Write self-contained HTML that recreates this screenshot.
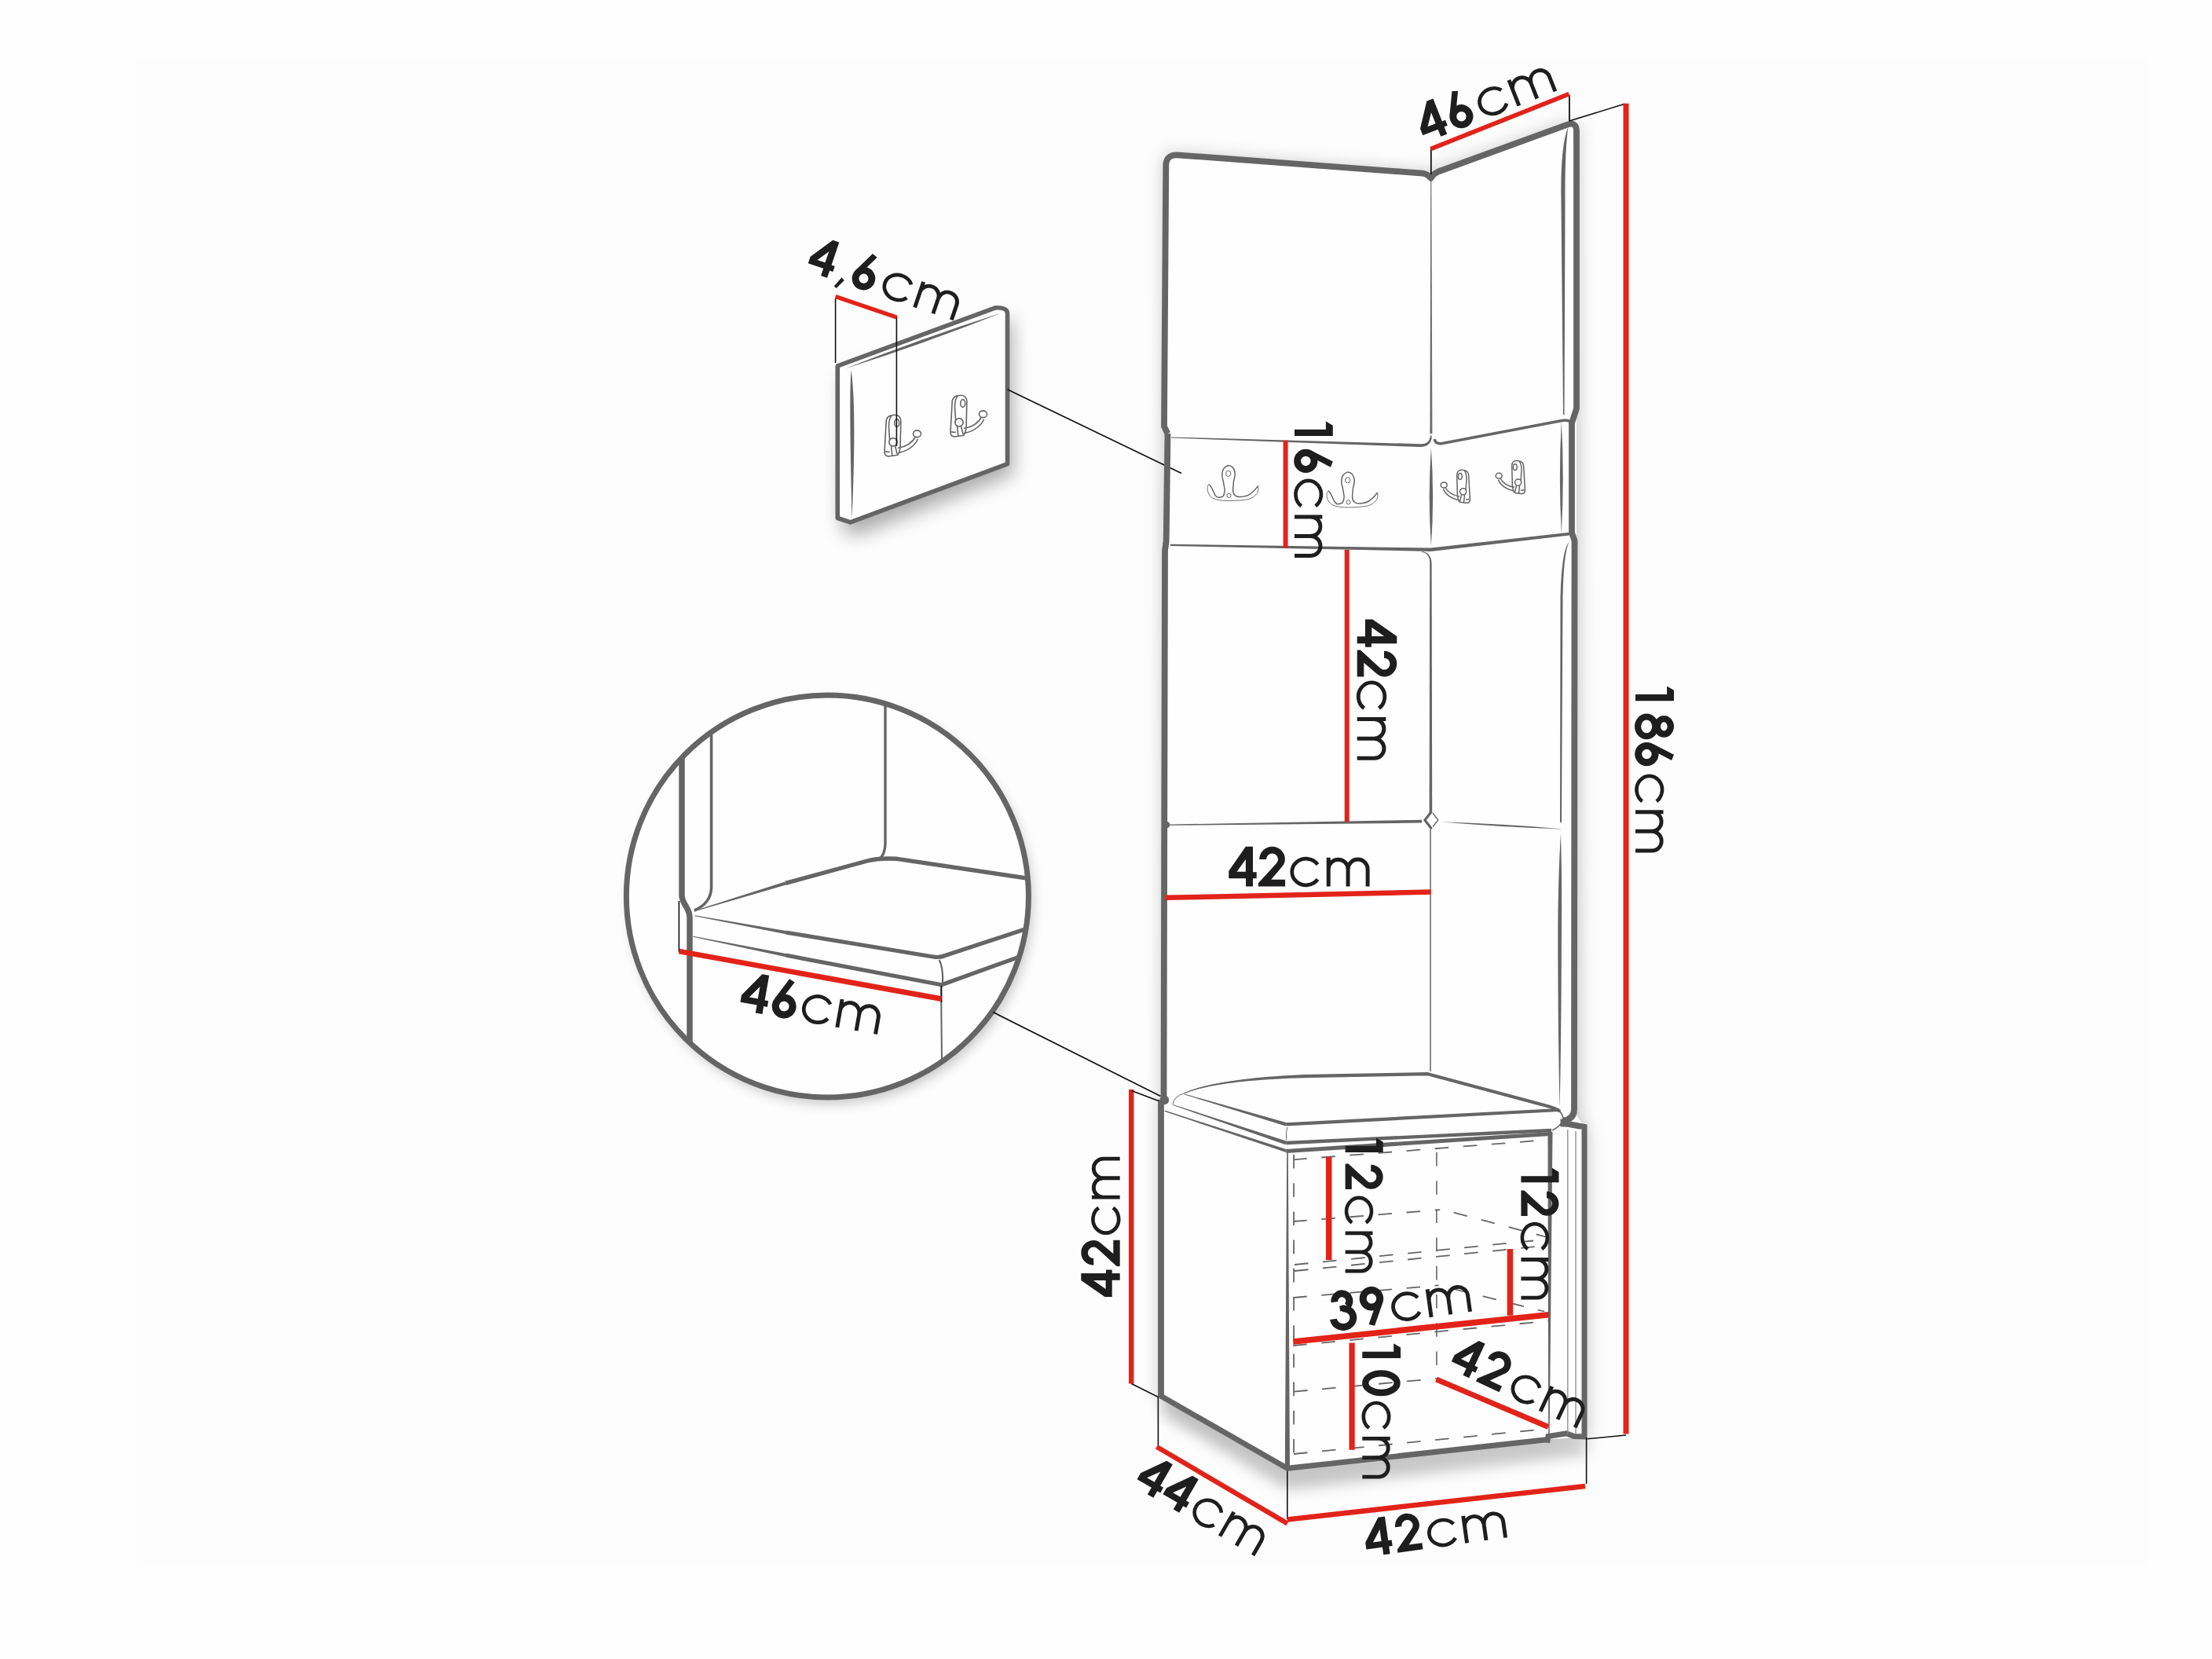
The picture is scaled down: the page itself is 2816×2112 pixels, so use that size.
<!DOCTYPE html>
<html><head><meta charset="utf-8"><style>
html,body{margin:0;padding:0;background:#fefefe;}
svg{display:block;}
text{font-family:"Liberation Sans",sans-serif;fill:#1e1e1e;}
</style></head><body>
<svg width="2816" height="2112" viewBox="0 0 2816 2112" xmlns="http://www.w3.org/2000/svg">
<defs>
<filter id="blur8" x="-30%" y="-30%" width="160%" height="160%"><feGaussianBlur stdDeviation="8"/></filter>
<filter id="blur9" x="-30%" y="-30%" width="160%" height="160%"><feGaussianBlur stdDeviation="9"/></filter>
<filter id="blur12" x="-30%" y="-30%" width="160%" height="160%"><feGaussianBlur stdDeviation="12"/></filter>
<filter id="blur6" x="-30%" y="-30%" width="160%" height="160%"><feGaussianBlur stdDeviation="6"/></filter>
<filter id="blur10" x="-30%" y="-30%" width="160%" height="160%"><feGaussianBlur stdDeviation="10"/></filter>
<clipPath id="cc"><circle cx="1053.4" cy="1141" r="253"/></clipPath>
</defs>
<rect width="2816" height="2112" fill="#fefefe"/>
<rect x="174" y="75" width="2560" height="1919" fill="#fdfdfd"/>
<g filter="url(#blur12)" opacity="0.32">
<path d="M1074,478 L1288,404 L1290,604 L1090,682 L1072,674Z" fill="#000"/>
</g>
<g filter="url(#blur8)" opacity="0.22">
<circle cx="1058" cy="1149" r="256" fill="#000"/>
</g>
<g filter="url(#blur12)" opacity="0.26">
<path d="M1484,197 L1821,222 L2007,155 L2009,1430 L2019,1434 L2019,1832 L1640,1876 L1478,1784 L1478,1410 L1481,1400Z" fill="#000"/>
</g>
<g filter="url(#blur10)" opacity="0.25">
<path d="M1482,1784 L1640,1878 L1978,1840 L2020,1838 L2020,1850 L1640,1895 L1482,1800Z" fill="#000"/>
</g>
<path d="M1484,197 L1821,222 L2007,155 L2007,1420 L2017,1434 L2017,1830 L1976,1832 L1639,1869 L1477,1778 L1477,1410 L1481,1400Z" fill="#fefefe"/>
<path d="M1066.3,465.9 L1267,391.8 Q1282.5,391 1282.5,399 L1282.5,590.7 L1082.6,664.9 L1066.3,659.5 Z" fill="#fefefe" stroke="#656565" stroke-width="5.6" stroke-linejoin="round"/>
<path d="M1075.3,469.6 Q1175.9,437.5 1274.0,398.6 Q1173.4,430.7 1075.3,469.6Z" fill="#656565"/>
<path d="M1083.5,471 C1089,505 1088,585 1084.5,661 C1083,585 1081,505 1083.5,471 Z" fill="#656565"/>
<g transform="translate(0,0) translate(3465.25,-219.5) scale(-1.25,1.25)" stroke="#656565" stroke-width="1.3" fill="none">
<path d="M1857.9,639 Q1855,634 1855.3,628.5 L1854.7,604.4 Q1855,598 1861.4,598.2 Q1869.7,598.5 1869.7,605.6 L1871.4,636.1 Q1871,641 1866.1,640.2 Z" fill="#fff"/>
<path d="M1864.1,599 Q1867,602 1867,610 L1866,625"/>
<ellipse cx="1858.8" cy="606.4" rx="2.4" ry="3.9"/>
<path d="M1857.9,632 Q1845,630 1839.5,620" />
<path d="M1856.7,636.7 Q1842,633 1837.3,622.6" />
<ellipse cx="1838.2" cy="617.4" rx="4" ry="3.5" fill="#fff"/>
<circle cx="1862.6" cy="625.8" r="4.1" fill="#fff"/>
<path d="M1860.5,630 L1858.5,638 M1864.5,630 L1863.5,640 M1866,636 L1870.5,635.5"/>
</g>
<g transform="translate(84,-25) translate(3465.25,-219.5) scale(-1.25,1.25)" stroke="#656565" stroke-width="1.3" fill="none">
<path d="M1857.9,639 Q1855,634 1855.3,628.5 L1854.7,604.4 Q1855,598 1861.4,598.2 Q1869.7,598.5 1869.7,605.6 L1871.4,636.1 Q1871,641 1866.1,640.2 Z" fill="#fff"/>
<path d="M1864.1,599 Q1867,602 1867,610 L1866,625"/>
<ellipse cx="1858.8" cy="606.4" rx="2.4" ry="3.9"/>
<path d="M1857.9,632 Q1845,630 1839.5,620" />
<path d="M1856.7,636.7 Q1842,633 1837.3,622.6" />
<ellipse cx="1838.2" cy="617.4" rx="4" ry="3.5" fill="#fff"/>
<circle cx="1862.6" cy="625.8" r="4.1" fill="#fff"/>
<path d="M1860.5,630 L1858.5,638 M1864.5,630 L1863.5,640 M1866,636 L1870.5,635.5"/>
</g>
<circle cx="1053.4" cy="1141" r="256" fill="#fefefe"/>
<g clip-path="url(#cc)">
<path d="M868,940 V1140 C868,1151 878,1155 878,1168 V1345" stroke="#656565" stroke-width="7.5" fill="none" />
<path d="M905.6,925 V1130 Q905,1150 884,1159" stroke="#656565" stroke-width="3.6" fill="none" />
<path d="M1127,885 V1075 Q1126,1090 1119,1093" stroke="#656565" stroke-width="3.4" fill="none" />
<path d="M883.55,1160.48 L1000.61,1126.41 L999.39,1122.39 L883.25,1159.52Z" fill="#656565"/>
<path d="M1000,1124.4 L1104,1096 Q1118,1092 1142,1093.3 L1320,1120" stroke="#656565" stroke-width="5.4" fill="none" stroke-linejoin="round"/>
<path d="M884.31,1166.29 L999.62,1189.07 L1000.38,1184.93 L884.49,1165.31Z" fill="#656565"/>
<path d="M1000,1187 L1188,1218 Q1196,1219.5 1203,1216.5 L1320,1178" stroke="#656565" stroke-width="5.2" fill="none" stroke-linejoin="round"/>
<path d="M882.30,1192.79 L999.59,1218.06 L1000.41,1213.94 L882.50,1191.81Z" fill="#656565"/>
<path d="M1000,1216 L1198.6,1253.8 L1320,1210" stroke="#656565" stroke-width="5.2" fill="none" stroke-linejoin="round"/>
<path d="M1195.7,1222 Q1201,1232 1200,1252.4" stroke="#656565" stroke-width="2.2" fill="none" />
<path d="M1198,1255 L1199,1350" stroke="#656565" stroke-width="2.0" fill="none" />
</g>
<circle cx="1053.4" cy="1141" r="256" fill="none" stroke="#656565" stroke-width="7"/>
<line x1="864.4" y1="1147" x2="864.4" y2="1212" stroke="#111" stroke-width="1.6" />
<line x1="1198.5" y1="1255" x2="1198.5" y2="1276" stroke="#111" stroke-width="1.6" />
<line x1="864.4" y1="1211" x2="1198.5" y2="1271.7" stroke="#e2231a" stroke-width="6.8" />
<line x1="1282.5" y1="495.8" x2="1504" y2="602.5" stroke="#111" stroke-width="1.7" />
<line x1="1264.3" y1="1288.6" x2="1477.5" y2="1395.5" stroke="#111" stroke-width="1.7" />
<path d="M1486.5,552 L1482,543 L1484.3,211 Q1484.3,197 1498.5,197.3 L1811,220.6 Q1817.5,221.5 1821.6,226.8 Q1825,221 1831,218.5 L1995.5,158.6 Q2007,154.8 2007,167 L2007,520 L2001,538.5 L2001,678 L2004.5,688.5 L2004,1412 Q2004,1425 1990,1426.5" stroke="#656565" stroke-width="7.8" fill="none" stroke-linejoin="round"/>
<path d="M1486.5,552 L1484.7,689 L1483,701 L1481.5,1400" stroke="#656565" stroke-width="7.8" fill="none" stroke-linejoin="round"/>
<circle cx="1482.3" cy="1400.3" r="5.9" fill="#656565"/>
<path d="M1478,1400 L1478,1779" stroke="#656565" stroke-width="7.8" fill="none" />
<path d="M1480,1044 Q1490,1046 1489.5,1050 Q1490,1054 1480,1056 Z" fill="#656565"/>
<path d="M1821.25,229.00 L1820.40,552.00 L1823.40,552.00 L1822.35,229.00Z" fill="#6e6e6e"/>
<path d="M1491,556.4 L1808,565.2 Q1818.5,566 1820.5,557 L1821.6,553 L1822.8,557 Q1821,569 1808,569 L1491,557.6Z" fill="#656565"/>
<path d="M1826,559 Q1828,566 1836,564.5 L1988,535.5 Q1995,534 1999,537" stroke="#656565" stroke-width="3.4" fill="none" />
<path d="M1996.5,161.5 Q1986,185 1987.5,260 L1990,528 L1991.5,528 L1992.5,260 Q1992,190 1996.5,161.5Z" fill="#656565"/>
<path d="M1821.9,570.0 Q1817.5,632.5 1821.9,695.0 Q1826.3,632.5 1821.9,570.0Z" fill="#656565"/>
<path d="M1987.8,536.0 Q1984.0,607.5 1987.8,679.0 Q1991.6,607.5 1987.8,536.0Z" fill="#656565"/>
<path d="M1490,692.8 L1821.6,697.6 L1998,677.8 L1998,681.6 L1821.6,702 L1490,695Z" fill="#656565"/>
<g stroke="#656565" fill="none">
<path d="M1539.2,616.4 Q1541.4,618.8 1543,622 L1546.8,630.1 Q1549,633.5 1551.2,633.3 Q1557.4,633 1558,629.8 Q1559.6,624 1559,622.3 L1557.4,613.3 Q1555.4,606 1555.9,603.5 Q1556,595 1563.7,592.5 Q1571.5,593 1572.3,603.5 Q1572,608 1570.4,613.3 L1569.6,623.1 Q1569.6,628 1571.5,630.1 Q1574,632.8 1579,632.5 Q1588,632 1592,628.5 Q1598,624 1601.7,618.6" stroke-width="1.5"/>
<path d="M1601.7,618.6 Q1603,624 1600.5,628 Q1597,633 1590,635.5 Q1580,637.5 1565.3,637.6 Q1550,637.6 1543.5,634 Q1539,631 1538,627 Q1536.5,621 1537.4,619.2 Q1538,616.5 1539.2,616.4" stroke-width="0.9"/>
<ellipse cx="1563.7" cy="602.9" rx="3.2" ry="3.6"/>
<circle cx="1564.5" cy="630.9" r="2.6"/>
</g>
<g transform="translate(152,8.4)" stroke="#656565" fill="none">
<path d="M1539.2,616.4 Q1541.4,618.8 1543,622 L1546.8,630.1 Q1549,633.5 1551.2,633.3 Q1557.4,633 1558,629.8 Q1559.6,624 1559,622.3 L1557.4,613.3 Q1555.4,606 1555.9,603.5 Q1556,595 1563.7,592.5 Q1571.5,593 1572.3,603.5 Q1572,608 1570.4,613.3 L1569.6,623.1 Q1569.6,628 1571.5,630.1 Q1574,632.8 1579,632.5 Q1588,632 1592,628.5 Q1598,624 1601.7,618.6" stroke-width="1.5"/>
<path d="M1601.7,618.6 Q1603,624 1600.5,628 Q1597,633 1590,635.5 Q1580,637.5 1565.3,637.6 Q1550,637.6 1543.5,634 Q1539,631 1538,627 Q1536.5,621 1537.4,619.2 Q1538,616.5 1539.2,616.4" stroke-width="0.9"/>
<ellipse cx="1563.7" cy="602.9" rx="3.2" ry="3.6"/>
<circle cx="1564.5" cy="630.9" r="2.6"/>
</g>
<g transform="translate(0,0)" stroke="#656565" stroke-width="1.5" fill="none">
<path d="M1857.9,639 Q1855,634 1855.3,628.5 L1854.7,604.4 Q1855,598 1861.4,598.2 Q1869.7,598.5 1869.7,605.6 L1871.4,636.1 Q1871,641 1866.1,640.2 Z" fill="#fff"/>
<path d="M1864.1,599 Q1867,602 1867,610 L1866,625"/>
<ellipse cx="1858.8" cy="606.4" rx="2.4" ry="3.9"/>
<path d="M1857.9,632 Q1845,630 1839.5,620" />
<path d="M1856.7,636.7 Q1842,633 1837.3,622.6" />
<ellipse cx="1838.2" cy="617.4" rx="4" ry="3.5" fill="#fff"/>
<circle cx="1862.6" cy="625.8" r="4.1" fill="#fff"/>
<path d="M1860.5,630 L1858.5,638 M1864.5,630 L1863.5,640 M1866,636 L1870.5,635.5"/>
</g>
<g transform="translate(70,-11.7)" stroke="#656565" stroke-width="1.5" fill="none">
<path d="M1857.9,639 Q1855,634 1855.3,628.5 L1854.7,604.4 Q1855,598 1861.4,598.2 Q1869.7,598.5 1869.7,605.6 L1871.4,636.1 Q1871,641 1866.1,640.2 Z" fill="#fff"/>
<path d="M1864.1,599 Q1867,602 1867,610 L1866,625"/>
<ellipse cx="1858.8" cy="606.4" rx="2.4" ry="3.9"/>
<path d="M1857.9,632 Q1845,630 1839.5,620" />
<path d="M1856.7,636.7 Q1842,633 1837.3,622.6" />
<ellipse cx="1838.2" cy="617.4" rx="4" ry="3.5" fill="#fff"/>
<circle cx="1862.6" cy="625.8" r="4.1" fill="#fff"/>
<path d="M1860.5,630 L1858.5,638 M1864.5,630 L1863.5,640 M1866,636 L1870.5,635.5"/>
</g>
<path d="M1809.97,703.05 L1810.81,703.15 L1811.60,703.30 L1812.37,703.49 L1813.10,703.73 L1813.80,704.02 L1814.45,704.34 L1815.08,704.71 L1815.67,705.12 L1816.22,705.58 L1816.74,706.08 L1817.22,706.62 L1817.67,707.21 L1818.09,707.84 L1818.47,708.51 L1818.81,709.24 L1819.12,710.01 L1819.39,710.83 L1819.63,711.70 L1819.82,712.62 L1819.98,713.59 L1820.10,714.62 L1820.18,715.69 L1820.21,716.82 L1820.20,718.00 L1822.60,718.00 L1822.55,716.73 L1822.44,715.51 L1822.30,714.35 L1822.10,713.23 L1821.86,712.17 L1821.58,711.16 L1821.25,710.20 L1820.88,709.29 L1820.47,708.44 L1820.01,707.64 L1819.51,706.89 L1818.98,706.19 L1818.40,705.56 L1817.79,704.97 L1817.14,704.44 L1816.47,703.97 L1815.75,703.56 L1815.01,703.20 L1814.25,702.89 L1813.45,702.64 L1812.63,702.44 L1811.78,702.29 L1810.92,702.20 L1810.03,702.15Z" fill="#656565"/>
<path d="M1820.20,718.00 L1819.60,1035.00 L1823.20,1035.00 L1822.60,718.00Z" fill="#656565"/>
<path d="M1821.8,1033.9 L1813.9,1044 L1821.8,1054.2" stroke="#656565" stroke-width="3.2" fill="none" stroke-linejoin="round" stroke-linecap="round"/>
<path d="M1824,1035 L1830.8,1044 L1824,1052.5" stroke="#656565" stroke-width="1.3" fill="none" />
<path d="M1489.5,1049.5 L1810,1043.8 L1810,1047.6 L1489.5,1050.8Z" fill="#656565"/>
<path d="M1834.0,1046.3 Q1912.0,1053.2 1990.3,1055.4 Q1912.3,1048.5 1834.0,1046.3Z" fill="#656565"/>
<path d="M1997.5,690 Q1988,700 1986.5,760 L1986,1047 L1988,1047 L1989.5,760 Q1990.5,705 1997.5,690Z" fill="#656565"/>
<line x1="1821" y1="1056" x2="1821" y2="1364" stroke="#7a7a7a" stroke-width="1.7" />
<path d="M1821,1056 L1821,1364" stroke="#8a8a8a" stroke-width="1.2" fill="none" />
<path d="M1987,1061 Q1983.2,1120 1983.3,1200 Q1983.6,1330 1985.6,1410 Q1987.5,1330 1987.9,1200 Q1988.6,1120 1987,1061Z" fill="#656565"/>
<path d="M1493,1406.6 Q1493.5,1396 1508,1391.6 Q1530,1383 1560.4,1378 Q1600,1373 1670,1370 L1817.7,1367.4" stroke="#656565" stroke-width="1.0" fill="none" />
<path d="M1508.16,1391.97 L1511.69,1390.61 L1515.51,1389.29 L1519.62,1388.01 L1524.01,1386.77 L1528.68,1385.57 L1533.64,1384.41 L1538.89,1383.30 L1544.41,1382.23 L1550.21,1381.21 L1556.30,1380.23 L1562.66,1379.30 L1569.30,1378.41 L1576.21,1377.58 L1583.39,1376.79 L1590.85,1376.06 L1598.59,1375.38 L1606.59,1374.75 L1614.86,1374.17 L1623.40,1373.65 L1632.20,1373.19 L1641.27,1372.78 L1650.60,1372.43 L1660.20,1372.13 L1670.06,1371.90 L1669.94,1367.70 L1660.06,1368.08 L1650.44,1368.51 L1641.09,1369.01 L1631.99,1369.56 L1623.17,1370.17 L1614.61,1370.83 L1606.32,1371.55 L1598.30,1372.33 L1590.56,1373.15 L1583.08,1374.03 L1575.88,1374.96 L1568.95,1375.94 L1562.31,1376.96 L1555.94,1378.04 L1549.84,1379.16 L1544.03,1380.33 L1538.51,1381.55 L1533.26,1382.81 L1528.30,1384.11 L1523.63,1385.45 L1519.25,1386.84 L1515.15,1388.26 L1511.35,1389.73 L1507.84,1391.23Z" fill="#656565"/>
<path d="M1670,1369.8 L1817.7,1367.2 L1966,1407 Q1982,1411 1986,1415" stroke="#656565" stroke-width="4.2" fill="none" stroke-linejoin="round"/>
<path d="M1507.89,1393.38 L1636.65,1433.60 L1637.95,1429.20 L1508.11,1392.62Z" fill="#656565"/>
<path d="M1637.3,1431.4 L1985,1413" stroke="#656565" stroke-width="4.2" fill="none" />
<path d="M1493.36,1407.03 L1636.53,1457.27 L1638.07,1452.73 L1493.64,1406.17Z" fill="#656565"/>
<path d="M1637.3,1455 L1975,1439" stroke="#656565" stroke-width="4.4" fill="none" />
<path d="M1639,1435 Q1637,1440 1637.7,1451.3" stroke="#656565" stroke-width="1.0" fill="none" />
<path d="M1981,1411 Q1989,1416 1990,1424 Q1990,1432 1976,1439" stroke="#656565" stroke-width="1.6" fill="none" />
<path d="M1986.5,1424.5 L1995,1424.5 L1995,1434.5 L1986.5,1434.5Z" fill="#656565"/>
<path d="M1993,1430 L2017,1434.5 L2017,1831" stroke="#656565" stroke-width="7" fill="none" stroke-linejoin="miter"/>
<path d="M1482.7,1413.6 L1637.3,1463 L1637.3,1467 L1482.7,1415Z" fill="#656565"/>
<path d="M1637.3,1465.5 L1973.5,1443.4" stroke="#656565" stroke-width="5" fill="none" />
<path d="M1970.5,1441 L1976.5,1441 L1972.6,1830 L1971.2,1830Z" fill="#656565"/>
<path d="M1638.2,1466 L1639.8,1466 L1642,1870 L1635.8,1870Z" fill="#656565"/>
<path d="M1477.6,1777 L1638.8,1869.3 L1971,1832.5" stroke="#656565" stroke-width="7" fill="none" stroke-linejoin="round"/>
<path d="M1969.5,1836.5 L1971,1828.5 L1994.2,1824.8 L2003.7,1828.6 L2020,1829" stroke="#656565" stroke-width="7" fill="none" stroke-linejoin="miter"/>
<line x1="1995.8" y1="1438" x2="1995.8" y2="1826" stroke="#8a8a8a" stroke-width="1.3" />
<line x1="2006" y1="1440" x2="2006" y2="1826" stroke="#8a8a8a" stroke-width="1.3" />
<path d="M1985,1432 L2012,1437" stroke="#656565" stroke-width="1.3" fill="none" />
<line x1="1646.2" y1="1476.3" x2="1971.3" y2="1451" stroke="#656565" stroke-width="1.8" stroke-dasharray="17.6 18.6" stroke-dashoffset="0"/>
<line x1="1647.1" y1="1470" x2="1647.1" y2="1852" stroke="#656565" stroke-width="1.8" stroke-dasharray="17.6 18.6" stroke-dashoffset="0"/>
<line x1="1828.9" y1="1467" x2="1828.9" y2="1760" stroke="#656565" stroke-width="1.6" stroke-dasharray="17.6 18.6" stroke-dashoffset="0"/>
<line x1="1646.2" y1="1555" x2="1833.2" y2="1540.1" stroke="#656565" stroke-width="1.8" stroke-dasharray="17.6 18.6" stroke-dashoffset="0"/>
<line x1="1850.7" y1="1543.6" x2="1969.6" y2="1575" stroke="#656565" stroke-width="1.8" stroke-dasharray="17.6 18.6" stroke-dashoffset="0"/>
<line x1="1648" y1="1610" x2="1952" y2="1579.5" stroke="#656565" stroke-width="1.8" stroke-dasharray="17.6 18.6" stroke-dashoffset="0"/>
<line x1="1648" y1="1618" x2="1969.6" y2="1585.6" stroke="#656565" stroke-width="1.8" stroke-dasharray="17.6 18.6" stroke-dashoffset="0"/>
<line x1="1646.2" y1="1652" x2="1831.5" y2="1636.3" stroke="#656565" stroke-width="1.8" stroke-dasharray="17.6 18.6" stroke-dashoffset="0"/>
<line x1="1852.5" y1="1641.5" x2="1966" y2="1669.5" stroke="#656565" stroke-width="1.8" stroke-dasharray="17.6 18.6" stroke-dashoffset="0"/>
<line x1="1646.2" y1="1713" x2="1971.3" y2="1681.7" stroke="#656565" stroke-width="1.8" stroke-dasharray="17.6 18.6" stroke-dashoffset="0"/>
<line x1="1647" y1="1771.6" x2="1829" y2="1755" stroke="#656565" stroke-width="1.8" stroke-dasharray="17.6 18.6" stroke-dashoffset="0"/>
<line x1="1647" y1="1851" x2="1969" y2="1819" stroke="#656565" stroke-width="1.8" stroke-dasharray="17.6 18.6" stroke-dashoffset="0"/>
<line x1="1063.6" y1="380" x2="1063.6" y2="462" stroke="#111" stroke-width="1.6" />
<line x1="1141.4" y1="403" x2="1141.4" y2="568" stroke="#111" stroke-width="1.6" />
<line x1="1063.6" y1="377.5" x2="1141.6" y2="404" stroke="#e2231a" stroke-width="5.4" />
<line x1="1821.8" y1="188" x2="1821.8" y2="222" stroke="#111" stroke-width="1.8" />
<line x1="1997.9" y1="121" x2="1997.9" y2="154" stroke="#111" stroke-width="1.8" />
<line x1="1821.3" y1="189.6" x2="1997.4" y2="119.6" stroke="#e2231a" stroke-width="5.8" />
<line x1="1997.9" y1="154" x2="2068.3" y2="132.3" stroke="#111" stroke-width="1.6" />
<line x1="2070" y1="131.8" x2="2070" y2="1825.5" stroke="#e2231a" stroke-width="7" />
<line x1="2020.5" y1="1831.8" x2="2070" y2="1827" stroke="#111" stroke-width="1.6" />
<line x1="1636.6" y1="560.7" x2="1636.6" y2="697.6" stroke="#e2231a" stroke-width="6" />
<line x1="1714.7" y1="700" x2="1714.7" y2="1046" stroke="#e2231a" stroke-width="6" />
<line x1="1483" y1="1142.8" x2="1821.7" y2="1135.6" stroke="#e2231a" stroke-width="6.5" />
<line x1="1440.2" y1="1387" x2="1440.2" y2="1761.5" stroke="#e2231a" stroke-width="6.5" />
<line x1="1440.4" y1="1761.5" x2="1474.4" y2="1778.5" stroke="#111" stroke-width="1.6" />
<line x1="1440.4" y1="1388.5" x2="1475" y2="1401.5" stroke="#111" stroke-width="1.8" />
<line x1="1474.4" y1="1778" x2="1474.4" y2="1840" stroke="#111" stroke-width="1.6" />
<line x1="1472.5" y1="1841.8" x2="1638.9" y2="1939.5" stroke="#e2231a" stroke-width="6.2" />
<line x1="1638.8" y1="1872.5" x2="1638.8" y2="1934" stroke="#111" stroke-width="1.6" />
<line x1="1638.8" y1="1934.4" x2="2018" y2="1892" stroke="#e2231a" stroke-width="6.5" />
<line x1="2019.6" y1="1830" x2="2019.6" y2="1889" stroke="#111" stroke-width="1.6" />
<line x1="1691.7" y1="1472.8" x2="1691.7" y2="1603.9" stroke="#e2231a" stroke-width="7.5" />
<line x1="1922.4" y1="1590" x2="1922.4" y2="1674.7" stroke="#e2231a" stroke-width="7.5" />
<line x1="1646.2" y1="1708" x2="1971.3" y2="1673.8" stroke="#e2231a" stroke-width="7.5" />
<line x1="1721.1" y1="1709.6" x2="1721.1" y2="1845.8" stroke="#e2231a" stroke-width="7.2" />
<line x1="1828.5" y1="1756" x2="1971" y2="1816.5" stroke="#e2231a" stroke-width="6.8" />
<g transform="translate(1025.7,344.4) rotate(18.7)" fill="#1e1e1e"><g transform="translate(0.00,0) scale(0.9656)"><path fill-rule="evenodd" d="M0,-10 V-19.2 L21,-49.4 H29.9 V-17.7 H34.5 V-10 H29.9 V0 H21.2 V-10 Z M10,-18.1 L21,-33.6 V-18.1 Z"/></g><g transform="translate(40.60,0) scale(0.9656)"><path d="M5.8,-6.5 L10.2,-4 L3.6,9.3 L0,7.5 Z"/></g><g transform="translate(58.10,0) scale(0.9656)"><circle cx="15.6" cy="-14.5" r="10.8" fill="none" stroke="#1e1e1e" stroke-width="9"/><path d="M2.2,-21.9 L16.3,-49.4 L23.5,-46.5 L14.8,-29.6 Z"/></g><g transform="translate(98.30,0) scale(1.0060,0.9656)"><path fill="none" stroke="#1e1e1e" stroke-width="4.7" d="M34.5,-27.07 A17.6,16.4 0 1 0 34.5,-8.73"/><path fill="none" stroke="#1e1e1e" stroke-width="4.9" d="M48.05,0 V-35.8 M48.05,-21.15 A12.225,12.225 0 0 1 72.5,-21.15 V0 M72.5,-21.15 A12.325,12.325 0 0 1 97.15,-21.15 V0"/></g></g>
<g transform="translate(1814.9,181.4) rotate(-21.5)" fill="#1e1e1e"><g transform="translate(0.00,0) scale(0.9818)"><path fill-rule="evenodd" d="M0,-10 V-19.2 L21,-49.4 H29.9 V-17.7 H34.5 V-10 H29.9 V0 H21.2 V-10 Z M10,-18.1 L21,-33.6 V-18.1 Z"/></g><g transform="translate(39.20,0) scale(0.9818)"><circle cx="15.6" cy="-14.5" r="10.8" fill="none" stroke="#1e1e1e" stroke-width="9"/><path d="M2.2,-21.9 L16.3,-49.4 L23.5,-46.5 L14.8,-29.6 Z"/></g><g transform="translate(79.40,0) scale(1.0080,0.9818)"><path fill="none" stroke="#1e1e1e" stroke-width="4.7" d="M34.5,-27.07 A17.6,16.4 0 1 0 34.5,-8.73"/><path fill="none" stroke="#1e1e1e" stroke-width="4.9" d="M48.05,0 V-35.8 M48.05,-21.15 A12.225,12.225 0 0 1 72.5,-21.15 V0 M72.5,-21.15 A12.325,12.325 0 0 1 97.15,-21.15 V0"/></g></g>
<g transform="translate(1648.0,536.3) rotate(90)" fill="#1e1e1e"><g transform="translate(0.00,0) scale(0.9879)"><path d="M10.7,0 H19 V-49.4 H5.4 L0,-40.4 H10.7 Z"/></g><g transform="translate(35.20,0) scale(0.9879)"><circle cx="15.6" cy="-14.5" r="10.8" fill="none" stroke="#1e1e1e" stroke-width="9"/><path d="M2.2,-21.9 L16.3,-49.4 L23.5,-46.5 L14.8,-29.6 Z"/></g><g transform="translate(73.20,0) scale(1.0080,0.9879)"><path fill="none" stroke="#1e1e1e" stroke-width="4.7" d="M34.5,-27.07 A17.6,16.4 0 1 0 34.5,-8.73"/><path fill="none" stroke="#1e1e1e" stroke-width="4.9" d="M48.05,0 V-35.8 M48.05,-21.15 A12.225,12.225 0 0 1 72.5,-21.15 V0 M72.5,-21.15 A12.325,12.325 0 0 1 97.15,-21.15 V0"/></g></g>
<g transform="translate(1727.7,788.5) rotate(90)" fill="#1e1e1e"><g transform="translate(0.00,0) scale(1.0243)"><path fill-rule="evenodd" d="M0,-10 V-19.2 L21,-49.4 H29.9 V-17.7 H34.5 V-10 H29.9 V0 H21.2 V-10 Z M10,-18.1 L21,-33.6 V-18.1 Z"/></g><g transform="translate(39.00,0) scale(1.0243)"><path d="M1.3,-33.5 A15.9,15.9 0 0 1 33.1,-33.5 C33.1,-29 31,-26 28.5,-23.3 L15.9,-8.4 H33.3 V0 H0 V-4.1 L21.5,-27.5 C23.5,-29.7 24.5,-31.3 24.5,-33.5 A7.3,7.3 0 0 0 9.9,-33.5 Z"/></g><g transform="translate(78.10,0) scale(1.0161,1.0243)"><path fill="none" stroke="#1e1e1e" stroke-width="4.7" d="M34.5,-27.07 A17.6,16.4 0 1 0 34.5,-8.73"/><path fill="none" stroke="#1e1e1e" stroke-width="4.9" d="M48.05,0 V-35.8 M48.05,-21.15 A12.225,12.225 0 0 1 72.5,-21.15 V0 M72.5,-21.15 A12.325,12.325 0 0 1 97.15,-21.15 V0"/></g></g>
<g transform="translate(1564.3,1128.4) rotate(0)" fill="#1e1e1e"><g transform="translate(0.00,0) scale(1.0263)"><path fill-rule="evenodd" d="M0,-10 V-19.2 L21,-49.4 H29.9 V-17.7 H34.5 V-10 H29.9 V0 H21.2 V-10 Z M10,-18.1 L21,-33.6 V-18.1 Z"/></g><g transform="translate(37.60,0) scale(1.0263)"><path d="M1.3,-33.5 A15.9,15.9 0 0 1 33.1,-33.5 C33.1,-29 31,-26 28.5,-23.3 L15.9,-8.4 H33.3 V0 H0 V-4.1 L21.5,-27.5 C23.5,-29.7 24.5,-31.3 24.5,-33.5 A7.3,7.3 0 0 0 9.9,-33.5 Z"/></g><g transform="translate(78.10,0) scale(1.0161,1.0263)"><path fill="none" stroke="#1e1e1e" stroke-width="4.7" d="M34.5,-27.07 A17.6,16.4 0 1 0 34.5,-8.73"/><path fill="none" stroke="#1e1e1e" stroke-width="4.9" d="M48.05,0 V-35.8 M48.05,-21.15 A12.225,12.225 0 0 1 72.5,-21.15 V0 M72.5,-21.15 A12.325,12.325 0 0 1 97.15,-21.15 V0"/></g></g>
<g transform="translate(2082.0,873.5) rotate(90)" fill="#1e1e1e"><g transform="translate(0.00,0) scale(0.9919)"><path d="M10.7,0 H19 V-49.4 H5.4 L0,-40.4 H10.7 Z"/></g><g transform="translate(34.90,0) scale(0.9919)"><ellipse cx="16.6" cy="-14.3" rx="12.45" ry="11.2" fill="none" stroke="#1e1e1e" stroke-width="8.2"/><ellipse cx="16.6" cy="-36.6" rx="9.85" ry="8.6" fill="none" stroke="#1e1e1e" stroke-width="8.4"/></g><g transform="translate(71.10,0) scale(0.9919)"><circle cx="15.6" cy="-14.5" r="10.8" fill="none" stroke="#1e1e1e" stroke-width="9"/><path d="M2.2,-21.9 L16.3,-49.4 L23.5,-46.5 L14.8,-29.6 Z"/></g><g transform="translate(112.00,0) scale(1.0040,0.9919)"><path fill="none" stroke="#1e1e1e" stroke-width="4.7" d="M34.5,-27.07 A17.6,16.4 0 1 0 34.5,-8.73"/><path fill="none" stroke="#1e1e1e" stroke-width="4.9" d="M48.05,0 V-35.8 M48.05,-21.15 A12.225,12.225 0 0 1 72.5,-21.15 V0 M72.5,-21.15 A12.325,12.325 0 0 1 97.15,-21.15 V0"/></g></g>
<g transform="translate(940.7,1285.8) rotate(10)" fill="#1e1e1e"><g transform="translate(0.00,0) scale(1.0121)"><path fill-rule="evenodd" d="M0,-10 V-19.2 L21,-49.4 H29.9 V-17.7 H34.5 V-10 H29.9 V0 H21.2 V-10 Z M10,-18.1 L21,-33.6 V-18.1 Z"/></g><g transform="translate(40.00,0) scale(1.0121)"><circle cx="15.6" cy="-14.5" r="10.8" fill="none" stroke="#1e1e1e" stroke-width="9"/><path d="M2.2,-21.9 L16.3,-49.4 L23.5,-46.5 L14.8,-29.6 Z"/></g><g transform="translate(78.60,0) scale(1.0080,1.0121)"><path fill="none" stroke="#1e1e1e" stroke-width="4.7" d="M34.5,-27.07 A17.6,16.4 0 1 0 34.5,-8.73"/><path fill="none" stroke="#1e1e1e" stroke-width="4.9" d="M48.05,0 V-35.8 M48.05,-21.15 A12.225,12.225 0 0 1 72.5,-21.15 V0 M72.5,-21.15 A12.325,12.325 0 0 1 97.15,-21.15 V0"/></g></g>
<g transform="translate(1425.7,1651.0) rotate(-90)" fill="#1e1e1e"><g transform="translate(0.00,0) scale(1.0000)"><path fill-rule="evenodd" d="M0,-10 V-19.2 L21,-49.4 H29.9 V-17.7 H34.5 V-10 H29.9 V0 H21.2 V-10 Z M10,-18.1 L21,-33.6 V-18.1 Z"/></g><g transform="translate(39.00,0) scale(1.0000)"><path d="M1.3,-33.5 A15.9,15.9 0 0 1 33.1,-33.5 C33.1,-29 31,-26 28.5,-23.3 L15.9,-8.4 H33.3 V0 H0 V-4.1 L21.5,-27.5 C23.5,-29.7 24.5,-31.3 24.5,-33.5 A7.3,7.3 0 0 0 9.9,-33.5 Z"/></g><g transform="translate(79.00,0) scale(0.9970,1.0000)"><path fill="none" stroke="#1e1e1e" stroke-width="4.7" d="M34.5,-27.07 A17.6,16.4 0 1 0 34.5,-8.73"/><path fill="none" stroke="#1e1e1e" stroke-width="4.9" d="M48.05,0 V-35.8 M48.05,-21.15 A12.225,12.225 0 0 1 72.5,-21.15 V0 M72.5,-21.15 A12.325,12.325 0 0 1 97.15,-21.15 V0"/></g></g>
<g transform="translate(1712.6,1448.4) rotate(90)" fill="#1e1e1e"><g transform="translate(0.00,0) scale(0.9737)"><path d="M10.7,0 H19 V-49.4 H5.4 L0,-40.4 H10.7 Z"/></g><g transform="translate(33.10,0) scale(0.9737)"><path d="M1.3,-33.5 A15.9,15.9 0 0 1 33.1,-33.5 C33.1,-29 31,-26 28.5,-23.3 L15.9,-8.4 H33.3 V0 H0 V-4.1 L21.5,-27.5 C23.5,-29.7 24.5,-31.3 24.5,-33.5 A7.3,7.3 0 0 0 9.9,-33.5 Z"/></g><g transform="translate(74.20,0) scale(0.9829,0.9737)"><path fill="none" stroke="#1e1e1e" stroke-width="4.7" d="M34.5,-27.07 A17.6,16.4 0 1 0 34.5,-8.73"/><path fill="none" stroke="#1e1e1e" stroke-width="4.9" d="M48.05,0 V-35.8 M48.05,-21.15 A12.225,12.225 0 0 1 72.5,-21.15 V0 M72.5,-21.15 A12.325,12.325 0 0 1 97.15,-21.15 V0"/></g></g>
<g transform="translate(1936.4,1486.8) rotate(90)" fill="#1e1e1e"><g transform="translate(0.00,0) scale(0.9737)"><path d="M10.7,0 H19 V-49.4 H5.4 L0,-40.4 H10.7 Z"/></g><g transform="translate(28.80,0) scale(0.9737)"><path d="M1.3,-33.5 A15.9,15.9 0 0 1 33.1,-33.5 C33.1,-29 31,-26 28.5,-23.3 L15.9,-8.4 H33.3 V0 H0 V-4.1 L21.5,-27.5 C23.5,-29.7 24.5,-31.3 24.5,-33.5 A7.3,7.3 0 0 0 9.9,-33.5 Z"/></g><g transform="translate(69.10,0) scale(0.9910,0.9737)"><path fill="none" stroke="#1e1e1e" stroke-width="4.7" d="M34.5,-27.07 A17.6,16.4 0 1 0 34.5,-8.73"/><path fill="none" stroke="#1e1e1e" stroke-width="4.9" d="M48.05,0 V-35.8 M48.05,-21.15 A12.225,12.225 0 0 1 72.5,-21.15 V0 M72.5,-21.15 A12.325,12.325 0 0 1 97.15,-21.15 V0"/></g></g>
<g transform="translate(1696.8,1694.5) rotate(-8)" fill="#1e1e1e"><g transform="translate(0.00,0) scale(1.0000)"><g fill="none" stroke="#1e1e1e"><path d="M7.3,-36.2 A9.5,9.5 0 1 1 22.9,-28.9" stroke-width="9"/><path d="M12.8,-27 H19" stroke-width="7"/><path d="M15.5,-26.6 A12.75,11.8 0 1 1 2.75,-14.8" stroke-width="8.8"/></g></g><g transform="translate(39.10,0) scale(1.0000)"><g transform="rotate(180 15.45 -24.3)"><circle cx="15.6" cy="-14.5" r="10.8" fill="none" stroke="#1e1e1e" stroke-width="9"/><path d="M2.2,-21.9 L16.3,-49.4 L23.5,-46.5 L14.8,-29.6 Z"/></g></g><g transform="translate(77.80,0) scale(1.0151,1.0000)"><path fill="none" stroke="#1e1e1e" stroke-width="4.7" d="M34.5,-27.07 A17.6,16.4 0 1 0 34.5,-8.73"/><path fill="none" stroke="#1e1e1e" stroke-width="4.9" d="M48.05,0 V-35.8 M48.05,-21.15 A12.225,12.225 0 0 1 72.5,-21.15 V0 M72.5,-21.15 A12.325,12.325 0 0 1 97.15,-21.15 V0"/></g></g>
<g transform="translate(1734.3,1710.2) rotate(90)" fill="#1e1e1e"><g transform="translate(0.00,0) scale(0.9879)"><path d="M10.7,0 H19 V-49.4 H5.4 L0,-40.4 H10.7 Z"/></g><g transform="translate(33.80,0) scale(0.9879)"><ellipse cx="16.85" cy="-24.4" rx="12.5" ry="20.4" fill="none" stroke="#1e1e1e" stroke-width="8.4"/></g><g transform="translate(73.50,0) scale(0.9920,0.9879)"><path fill="none" stroke="#1e1e1e" stroke-width="4.7" d="M34.5,-27.07 A17.6,16.4 0 1 0 34.5,-8.73"/><path fill="none" stroke="#1e1e1e" stroke-width="4.9" d="M48.05,0 V-35.8 M48.05,-21.15 A12.225,12.225 0 0 1 72.5,-21.15 V0 M72.5,-21.15 A12.325,12.325 0 0 1 97.15,-21.15 V0"/></g></g>
<g transform="translate(1843.7,1742.0) rotate(25)" fill="#1e1e1e"><g transform="translate(0.00,0) scale(0.9777)"><path fill-rule="evenodd" d="M0,-10 V-19.2 L21,-49.4 H29.9 V-17.7 H34.5 V-10 H29.9 V0 H21.2 V-10 Z M10,-18.1 L21,-33.6 V-18.1 Z"/></g><g transform="translate(39.00,0) scale(0.9777)"><path d="M1.3,-33.5 A15.9,15.9 0 0 1 33.1,-33.5 C33.1,-29 31,-26 28.5,-23.3 L15.9,-8.4 H33.3 V0 H0 V-4.1 L21.5,-27.5 C23.5,-29.7 24.5,-31.3 24.5,-33.5 A7.3,7.3 0 0 0 9.9,-33.5 Z"/></g><g transform="translate(81.80,0) scale(0.9920,0.9777)"><path fill="none" stroke="#1e1e1e" stroke-width="4.7" d="M34.5,-27.07 A17.6,16.4 0 1 0 34.5,-8.73"/><path fill="none" stroke="#1e1e1e" stroke-width="4.9" d="M48.05,0 V-35.8 M48.05,-21.15 A12.225,12.225 0 0 1 72.5,-21.15 V0 M72.5,-21.15 A12.325,12.325 0 0 1 97.15,-21.15 V0"/></g></g>
<g transform="translate(1442.6,1891.9) rotate(30)" fill="#1e1e1e"><g transform="translate(0.00,0) scale(0.9939)"><path fill-rule="evenodd" d="M0,-10 V-19.2 L21,-49.4 H29.9 V-17.7 H34.5 V-10 H29.9 V0 H21.2 V-10 Z M10,-18.1 L21,-33.6 V-18.1 Z"/></g><g transform="translate(38.00,0) scale(0.9939)"><path fill-rule="evenodd" d="M0,-10 V-19.2 L21,-49.4 H29.9 V-17.7 H34.5 V-10 H29.9 V0 H21.2 V-10 Z M10,-18.1 L21,-33.6 V-18.1 Z"/></g><g transform="translate(80.00,0) scale(0.9890,0.9939)"><path fill="none" stroke="#1e1e1e" stroke-width="4.7" d="M34.5,-27.07 A17.6,16.4 0 1 0 34.5,-8.73"/><path fill="none" stroke="#1e1e1e" stroke-width="4.9" d="M48.05,0 V-35.8 M48.05,-21.15 A12.225,12.225 0 0 1 72.5,-21.15 V0 M72.5,-21.15 A12.325,12.325 0 0 1 97.15,-21.15 V0"/></g></g>
<g transform="translate(1740.8,1982.2) rotate(-8)" fill="#1e1e1e"><g transform="translate(0.00,0) scale(0.9737)"><path fill-rule="evenodd" d="M0,-10 V-19.2 L21,-49.4 H29.9 V-17.7 H34.5 V-10 H29.9 V0 H21.2 V-10 Z M10,-18.1 L21,-33.6 V-18.1 Z"/></g><g transform="translate(39.00,0) scale(0.9737)"><path d="M1.3,-33.5 A15.9,15.9 0 0 1 33.1,-33.5 C33.1,-29 31,-26 28.5,-23.3 L15.9,-8.4 H33.3 V0 H0 V-4.1 L21.5,-27.5 C23.5,-29.7 24.5,-31.3 24.5,-33.5 A7.3,7.3 0 0 0 9.9,-33.5 Z"/></g><g transform="translate(79.60,0) scale(1.0080,0.9737)"><path fill="none" stroke="#1e1e1e" stroke-width="4.7" d="M34.5,-27.07 A17.6,16.4 0 1 0 34.5,-8.73"/><path fill="none" stroke="#1e1e1e" stroke-width="4.9" d="M48.05,0 V-35.8 M48.05,-21.15 A12.225,12.225 0 0 1 72.5,-21.15 V0 M72.5,-21.15 A12.325,12.325 0 0 1 97.15,-21.15 V0"/></g></g>
</svg></body></html>
